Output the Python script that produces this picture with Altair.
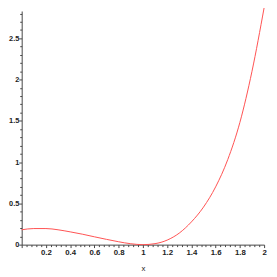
import altair as alt
import pandas as pd

xs = [0.0, 0.1, 0.2, 0.3, 0.4, 0.5, 0.6, 0.7, 0.8, 0.9, 1.0,
      1.1, 1.2, 1.3, 1.4, 1.5, 1.6, 1.7, 1.8, 1.9, 2.0]
ys = [0.18, 0.195, 0.195, 0.18, 0.155, 0.127, 0.095, 0.064, 0.035, 0.011, 0.0,
      0.012, 0.055, 0.14, 0.275, 0.455, 0.70, 1.03, 1.48, 2.10, 2.87]

x_ticks = [round(i * 0.04, 2) for i in range(51)]
y_ticks = [round(i * 0.1, 1) for i in range(29)]

df = pd.DataFrame({"x": xs, "y": ys})

x_axis = alt.Axis(
    values=x_ticks,
    labelExpr="(abs(datum.value*5 - round(datum.value*5)) < 0.001 && datum.value > 0.001) ? format(datum.value, '.1~f') : ''",
    tickSize={"condition": {"test": "abs(datum.value*5 - round(datum.value*5)) < 0.001", "value": 3}, "value": 2},
    labelOverlap=False, labelFlush=False, grid=False,
    labelFont="Liberation Sans", labelFontSize=8, labelFontWeight="bold", labelColor="#222",
    labelPadding=1, domainColor="#444", tickColor="#444",
    title="x", titleFont="Liberation Sans", titleFontSize=8, titleFontWeight="normal",
    titleColor="#222", titlePadding=8,
)
y_axis = alt.Axis(
    values=y_ticks,
    labelExpr="abs(datum.value*2 - round(datum.value*2)) < 0.001 ? format(datum.value, '.1~f') : ''",
    tickSize={"condition": {"test": "abs(datum.value*2 - round(datum.value*2)) < 0.001", "value": 3}, "value": 2},
    labelOverlap=False, labelFlush=False, grid=False,
    labelFont="Liberation Sans", labelFontSize=7.5, labelFontWeight="bold", labelColor="#222",
    labelPadding=0, domainColor="#444", tickColor="#444", title=None,
)

chart = alt.Chart(df).mark_line(
    color="#ff5050", strokeWidth=1, interpolate="monotone", clip=False
).encode(
    x=alt.X("x:Q", scale=alt.Scale(domain=[0, 2], nice=False, zero=False), axis=x_axis),
    y=alt.Y("y:Q", scale=alt.Scale(domain=[0, 2.83], nice=False), axis=y_axis),
).properties(
    width=248, height=239,
    autosize=alt.AutoSizeParams(type="none"),
    padding={"left": 14, "top": 0, "right": 5, "bottom": 30},
).configure_view(stroke=None)

chart.save("out.html", embed_options={"renderer": "svg", "actions": False})
